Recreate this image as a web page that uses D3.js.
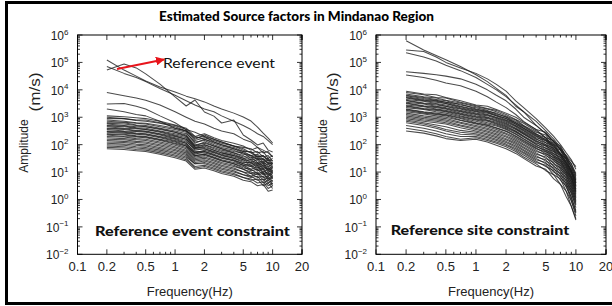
<!DOCTYPE html>
<html><head><meta charset="utf-8">
<script src="https://cdn.jsdelivr.net/npm/d3@7/dist/d3.min.js"></script>
<style>body{margin:0;background:#fff} svg{display:block}</style>
</head><body>
<svg id="chart" width="612" height="306"></svg>
<script>
// ---------------- DATA ----------------
const titleText = "Estimated Source factors in Mindanao Region";
const freqs = [0.2,0.3,0.4,0.5,0.7,1,1.3,1.6,2,2.5,3,4,5,6,7,8,9,10];
const xTickValues = [0.1,0.2,0.5,1,2,5,10,20];
const xTickLabels = ["0.1","0.2","0.5","1","2","5","10","20"];
const yTickExponents = [-2,-1,0,1,2,3,4,5,6];

// log10 amplitude read at each frequency of `freqs`
const eventUpper = [
 [5.09,4.72,4.5,4.32,4.1,3.92,3.77,3.67,3.56,3.41,3.3,3.15,3.01,2.86,2.64,2.42,2.24,2.06],
 [4.72,4.94,4.8,4.58,4.21,3.74,3.41,3.63,3.19,3.04,2.79,2.9,2.35,2.17,1.99,2.06,1.8,1.73],
 [4.85,4.6,4.45,4.3,4.05,3.8,3.6,3.45,3.3,3.2,3.05,2.85,2.7,2.55,2.4,2.3,2.15,2.0],
 [3.9,3.78,3.7,3.62,3.45,3.2,3.0,2.85,2.75,2.6,2.5,2.4,2.2,2.1,1.9,1.8,1.7,1.55],
 [3.48,3.5,3.4,3.3,3.05,2.8,2.55,2.45,2.3,2.2,2.1,1.95,1.8,1.7,1.55,1.6,1.45,1.4],
 [3.3,3.2,3.1,3.05,2.85,2.6,2.5,2.3,2.2,2.1,2.0,1.85,1.7,1.6,1.5,1.45,1.35,1.3]
];
const eventBundle = [
 [3.05,3.02,2.98,2.95,2.85,2.72,2.6,2.3,2.4,2.25,2.15,2.05,1.95,1.8,1.9,1.7,1.75,1.55],
 [3.0,2.95,2.9,2.9,2.8,2.7,2.55,2.2,2.35,2.2,2.1,1.95,1.9,1.85,1.7,1.75,1.5,1.6],
 [2.95,2.95,2.88,2.85,2.78,2.65,2.5,2.15,2.25,2.15,2.05,1.95,1.85,1.7,1.75,1.55,1.6,1.4],
 [2.9,2.85,2.8,2.78,2.7,2.6,2.5,2.25,2.3,2.1,2.0,1.9,1.75,1.75,1.55,1.6,1.4,1.5],
 [2.85,2.82,2.78,2.75,2.65,2.55,2.45,2.05,2.2,2.05,1.95,1.85,1.75,1.6,1.65,1.45,1.5,1.3],
 [2.8,2.8,2.72,2.7,2.6,2.5,2.4,2.1,2.15,2.0,1.9,1.8,1.65,1.6,1.45,1.5,1.3,1.35],
 [2.78,2.75,2.7,2.65,2.58,2.45,2.35,1.95,2.1,1.95,1.85,1.75,1.7,1.5,1.6,1.35,1.45,1.2],
 [2.75,2.7,2.65,2.65,2.55,2.45,2.32,2.0,2.05,1.95,1.85,1.7,1.55,1.55,1.35,1.4,1.2,1.3],
 [2.7,2.68,2.62,2.6,2.5,2.4,2.3,1.9,2.0,1.9,1.8,1.7,1.6,1.45,1.5,1.3,1.35,1.15],
 [2.68,2.65,2.6,2.55,2.48,2.35,2.25,1.95,2.0,1.85,1.75,1.65,1.5,1.45,1.3,1.35,1.1,1.2],
 [2.65,2.6,2.58,2.55,2.45,2.32,2.2,1.85,1.95,1.8,1.7,1.6,1.5,1.35,1.45,1.2,1.3,1.05],
 [2.6,2.58,2.52,2.5,2.4,2.3,2.2,1.9,1.9,1.8,1.7,1.6,1.45,1.4,1.25,1.3,1.05,1.15],
 [2.58,2.55,2.5,2.48,2.38,2.25,2.15,1.8,1.85,1.75,1.65,1.55,1.45,1.3,1.35,1.15,1.2,1.0],
 [2.55,2.5,2.48,2.45,2.35,2.22,2.1,1.85,1.85,1.72,1.62,1.5,1.35,1.35,1.15,1.25,1.0,1.05],
 [2.5,2.48,2.42,2.4,2.3,2.2,2.05,1.7,1.8,1.7,1.6,1.5,1.4,1.25,1.3,1.1,1.15,0.95],
 [2.48,2.45,2.4,2.38,2.28,2.15,2.05,1.75,1.75,1.65,1.55,1.45,1.3,1.25,1.1,1.15,0.9,1.0],
 [2.45,2.42,2.38,2.35,2.25,2.12,2.0,1.65,1.75,1.62,1.52,1.42,1.3,1.2,1.25,1.0,1.1,0.85],
 [2.4,2.38,2.32,2.3,2.2,2.1,1.95,1.7,1.7,1.6,1.5,1.4,1.25,1.2,1.05,1.1,0.85,0.95],
 [2.38,2.35,2.3,2.28,2.18,2.05,1.95,1.6,1.65,1.55,1.45,1.35,1.25,1.1,1.2,0.95,1.0,0.8],
 [2.35,2.3,2.28,2.25,2.15,2.02,1.9,1.6,1.65,1.52,1.42,1.3,1.15,1.1,0.95,1.0,0.75,0.85],
 [2.3,2.28,2.22,2.2,2.1,1.98,1.85,1.55,1.6,1.5,1.4,1.3,1.2,1.05,1.1,0.9,0.95,0.75],
 [2.25,2.22,2.18,2.15,2.05,1.92,1.8,1.5,1.55,1.45,1.35,1.25,1.1,1.0,0.9,0.95,0.7,0.8],
 [2.2,2.18,2.12,2.1,2.0,1.88,1.75,1.45,1.5,1.4,1.3,1.2,1.1,0.95,1.0,0.8,0.85,0.65],
 [2.15,2.12,2.08,2.05,1.95,1.82,1.7,1.4,1.45,1.35,1.25,1.15,1.0,0.95,0.8,0.85,0.6,0.7],
 [2.1,2.08,2.02,2.0,1.9,1.78,1.65,1.35,1.4,1.3,1.2,1.1,1.0,0.85,0.95,0.7,0.8,0.55],
 [2.05,2.02,1.98,1.95,1.85,1.72,1.6,1.3,1.35,1.25,1.15,1.05,0.9,0.85,0.7,0.75,0.5,0.6],
 [2.0,1.98,1.92,1.9,1.8,1.68,1.55,1.3,1.3,1.2,1.1,1.0,0.9,0.8,0.85,0.6,0.7,0.5],
 [1.95,1.92,1.88,1.85,1.75,1.62,1.5,1.2,1.25,1.15,1.05,0.95,0.8,0.75,0.6,0.65,0.4,0.5],
 [1.9,1.88,1.82,1.8,1.7,1.58,1.45,1.15,1.2,1.1,1.0,0.9,0.8,0.7,0.75,0.5,0.6,0.4],
 [1.85,1.82,1.78,1.75,1.65,1.52,1.4,1.1,1.15,1.05,0.95,0.85,0.7,0.65,0.5,0.55,0.3,0.35]
];
const siteUpper = [
 [5.79,5.45,5.25,5.1,4.85,4.55,4.3,4.05,3.8,3.4,3.2,2.7,2.4,2.1,1.85,1.6,1.4,1.2],
 [5.45,5.4,5.2,5.0,4.8,4.6,4.4,4.2,3.95,3.6,3.35,2.95,2.6,2.3,2.0,1.7,1.45,1.1],
 [5.35,5.2,5.05,4.9,4.7,4.45,4.2,4.0,3.75,3.45,3.2,2.85,2.5,2.2,1.9,1.55,1.3,0.95],
 [4.66,4.6,4.55,4.5,4.4,4.2,4.0,3.8,3.6,3.3,3.0,2.7,2.4,2.1,1.8,1.5,1.2,0.9],
 [4.54,4.45,4.35,4.25,4.15,3.95,3.75,3.55,3.35,3.1,2.85,2.55,2.25,1.95,1.65,1.35,1.05,0.7]
];
const siteBundle = [
 [3.95,3.85,3.82,3.72,3.6,3.45,3.4,3.28,3.15,3.0,2.82,2.55,2.45,2.1,1.95,1.55,1.3,0.85],
 [3.9,3.82,3.72,3.7,3.55,3.42,3.32,3.25,3.1,2.92,2.78,2.5,2.25,2.15,1.8,1.6,1.15,0.8],
 [3.85,3.75,3.7,3.62,3.52,3.38,3.3,3.2,3.05,2.9,2.7,2.45,2.35,2.0,1.85,1.45,1.2,0.75],
 [3.8,3.72,3.65,3.6,3.45,3.35,3.25,3.12,3.02,2.85,2.68,2.4,2.17,2.05,1.67,1.5,1.05,0.7],
 [3.78,3.68,3.62,3.55,3.48,3.3,3.22,3.15,3.0,2.8,2.65,2.38,2.25,1.9,1.8,1.35,1.1,0.65],
 [3.75,3.65,3.6,3.55,3.4,3.28,3.2,3.08,2.95,2.8,2.6,2.35,2.13,2.0,1.65,1.47,1.0,0.6],
 [3.72,3.62,3.58,3.5,3.38,3.25,3.18,3.05,2.95,2.75,2.6,2.32,2.2,1.85,1.7,1.3,1.05,0.6],
 [3.7,3.6,3.55,3.5,3.35,3.22,3.15,3.05,2.9,2.75,2.55,2.3,2.07,1.95,1.6,1.4,0.95,0.55],
 [3.65,3.58,3.5,3.45,3.32,3.2,3.1,3.0,2.88,2.7,2.52,2.25,2.15,1.8,1.65,1.25,1.0,0.5],
 [3.62,3.52,3.48,3.4,3.3,3.15,3.08,2.98,2.85,2.68,2.5,2.22,2.0,1.87,1.53,1.33,0.85,0.5],
 [3.6,3.5,3.45,3.4,3.25,3.12,3.05,2.95,2.82,2.65,2.45,2.2,2.07,1.75,1.6,1.2,0.95,0.45],
 [3.55,3.48,3.4,3.35,3.22,3.1,3.0,2.92,2.78,2.6,2.42,2.15,1.95,1.8,1.45,1.25,0.8,0.4],
 [3.52,3.42,3.38,3.32,3.2,3.05,2.98,2.88,2.75,2.58,2.4,2.12,2.0,1.67,1.53,1.13,0.85,0.38],
 [3.5,3.4,3.35,3.3,3.15,3.02,2.95,2.85,2.72,2.55,2.38,2.1,1.87,1.75,1.4,1.2,0.75,0.35],
 [3.45,3.38,3.3,3.25,3.12,3.0,2.9,2.82,2.68,2.5,2.32,2.05,1.95,1.6,1.45,1.05,0.8,0.3],
 [3.42,3.32,3.28,3.22,3.1,2.95,2.88,2.78,2.65,2.48,2.3,2.02,1.8,1.67,1.33,1.13,0.67,0.28],
 [3.4,3.3,3.25,3.2,3.05,2.92,2.85,2.75,2.62,2.45,2.28,2.0,1.87,1.55,1.4,1.0,0.75,0.25],
 [3.35,3.28,3.2,3.15,3.02,2.9,2.8,2.72,2.58,2.4,2.22,1.95,1.75,1.6,1.25,1.05,0.6,0.2],
 [3.3,3.2,3.15,3.1,2.98,2.85,2.75,2.68,2.55,2.38,2.2,1.92,1.8,1.47,1.33,0.93,0.65,0.15],
 [3.28,3.18,3.12,3.08,2.95,2.8,2.72,2.62,2.5,2.32,2.15,1.88,1.67,1.53,1.17,0.97,0.5,0.1],
 [3.25,3.15,3.1,3.05,2.9,2.78,2.7,2.6,2.48,2.3,2.12,1.85,1.73,1.4,1.25,0.85,0.55,0.05],
 [3.2,3.12,3.05,3.0,2.88,2.75,2.65,2.55,2.42,2.25,2.08,1.8,1.6,1.45,1.1,0.9,0.4,0.0],
 [3.15,3.05,3.0,2.95,2.82,2.7,2.6,2.5,2.38,2.2,2.02,1.75,1.65,1.3,1.15,0.75,0.45,-0.05],
 [3.1,3.0,2.95,2.9,2.78,2.65,2.55,2.45,2.32,2.15,1.98,1.7,1.5,1.35,1.0,0.8,0.3,-0.1],
 [3.05,2.95,2.9,2.85,2.72,2.6,2.5,2.4,2.28,2.1,1.92,1.65,1.55,1.2,1.05,0.65,0.35,-0.15],
 [3.0,2.9,2.85,2.8,2.68,2.55,2.45,2.35,2.22,2.05,1.88,1.6,1.4,1.25,0.9,0.7,0.2,-0.2],
 [2.95,2.85,2.8,2.75,2.62,2.5,2.4,2.3,2.18,2.0,1.82,1.55,1.45,1.1,0.95,0.55,0.25,-0.3],
 [2.9,2.8,2.72,2.65,2.52,2.45,2.35,2.25,2.12,1.95,1.78,1.5,1.3,1.15,0.8,0.6,0.05,-0.4],
 [2.85,2.75,2.65,2.55,2.45,2.4,2.3,2.2,2.08,1.9,1.72,1.45,1.35,1.0,0.85,0.45,0.1,-0.45],
 [2.8,2.7,2.6,2.5,2.38,2.35,2.25,2.15,2.02,1.85,1.68,1.4,1.2,1.05,0.7,0.5,-0.05,-0.5],
 [2.7,2.6,2.5,2.4,2.3,2.3,2.2,2.1,1.98,1.8,1.62,1.35,1.25,0.9,0.75,0.3,-0.05,-0.6],
 [2.6,2.5,2.4,2.3,2.2,2.25,2.15,2.05,1.92,1.75,1.55,1.3,1.05,0.9,0.55,0.3,-0.25,-0.7],
 [2.5,2.42,2.32,2.22,2.15,2.2,2.1,1.98,1.85,1.68,1.5,1.22,1.1,0.75,0.55,0.1,-0.25,-0.75]
];

// ---------------- DRAW ----------------
const svg = d3.select("#chart");
const calFont = "Lato, 'Open Sans', sans-serif";
const axFont = "'Liberation Sans', Arial, sans-serif";

// outer frame
svg.append("rect").attr("x",6.5).attr("y",2.5).attr("width",720).attr("height",301)
  .attr("fill","none").attr("stroke","#000").attr("stroke-width",3);

// title
svg.append("text").attr("x",296.5).attr("y",21).attr("text-anchor","middle")
  .attr("font-family",calFont).attr("font-weight","900").attr("font-size",14)
  .attr("textLength",275).attr("lengthAdjust","spacingAndGlyphs").text(titleText);

const yTop = 35, yBot = 254.3;
const panels = [
  {x0:77.5, x1:302, curves: eventUpper.concat(eventBundle), label:"Reference event constraint", lx:95, lw:195, ly:236},
  {x0:376, x1:606, curves: siteUpper.concat(siteBundle), label:"Reference site constraint", lx:390.7, lw:178.6, ly:235}
];

panels.forEach((p, pi) => {
  const x = d3.scaleLog().domain([0.1,20]).range([p.x0,p.x1]);
  const y = d3.scaleLog().domain([1e-2,1e6]).range([yBot,yTop]);
  const g = svg.append("g");

  // curves
  const line = d3.line().x(d=>x(d[0])).y(d=>y(d[1]));
  g.append("g").selectAll("path").data(p.curves).join("path")
    .attr("d", c => line(freqs.map((f,i)=>[f, Math.pow(10,c[i])])))
    .attr("fill","none").attr("stroke","#1e1e1e").attr("stroke-width",1.05)
    .attr("stroke-opacity",0.8).attr("stroke-linejoin","round");

  // frame
  g.append("rect").attr("x",p.x0).attr("y",yTop).attr("width",p.x1-p.x0).attr("height",yBot-yTop)
    .attr("fill","none").attr("stroke","#000").attr("stroke-width",1);

  // x ticks (inside, bottom and top)
  const xt = [];
  [0.1,1,10].forEach(dec => { for (let k=1;k<=9;k++){ const v=k*dec; if (v<=20.0001) xt.push(v);} });
  xt.push(20);
  xt.forEach(v => {
    const major = xTickValues.some(t => Math.abs(t-v)/t < 1e-6);
    const len = major ? 5 : 2.5;
    const xx = x(v);
    g.append("line").attr("x1",xx).attr("x2",xx).attr("y1",yBot).attr("y2",yBot-len).attr("stroke","#000").attr("stroke-width",0.8);
    g.append("line").attr("x1",xx).attr("x2",xx).attr("y1",yTop).attr("y2",yTop+len).attr("stroke","#000").attr("stroke-width",0.8);
  });
  // y ticks (inside, left and right)
  yTickExponents.forEach(e => {
    for (let k=1;k<=9;k++){
      if (e===6 && k>1) break;
      const v = k*Math.pow(10,e);
      const yy = y(v);
      const len = k===1 ? 5 : 2.5;
      g.append("line").attr("x1",p.x0).attr("x2",p.x0+len).attr("y1",yy).attr("y2",yy).attr("stroke","#000").attr("stroke-width",0.8);
      g.append("line").attr("x1",p.x1).attr("x2",p.x1-len).attr("y1",yy).attr("y2",yy).attr("stroke","#000").attr("stroke-width",0.8);
    }
  });

  // x tick labels
  xTickValues.forEach((v,i) => {
    g.append("text").attr("x",x(v)).attr("y",271).attr("text-anchor","middle")
      .attr("font-family",axFont).attr("font-size",13).attr("fill","#222").text(xTickLabels[i]);
  });
  // y tick labels
  yTickExponents.forEach(e => {
    const t = g.append("text").attr("x",p.x0-9).attr("y",y(Math.pow(10,e))+5).attr("text-anchor","end")
      .attr("font-family",axFont).attr("font-size",12).attr("fill","#222");
    t.append("tspan").text("10");
    t.append("tspan").attr("font-size",8).attr("dy",-5.5).text(e<0 ? "\u2212"+Math.abs(e) : String(e));
  });

  // axis titles
  g.append("text").attr("x",(p.x0+p.x1)/2).attr("y",296).attr("text-anchor","middle")
    .attr("font-family",axFont).attr("font-size",13).attr("fill","#222").text("Frequency(Hz)");
  g.append("text").attr("transform",`translate(${p.x0-49.5},146) rotate(-90)`).attr("text-anchor","middle")
    .attr("font-family",axFont).attr("font-size",12).attr("fill","#222").text("Amplitude");
  g.append("text").attr("transform",`translate(${p.x0-38},92) rotate(-90)`).attr("text-anchor","middle")
    .attr("font-family",axFont).attr("font-size",14).attr("fill","#222")
    .attr("textLength",39).attr("lengthAdjust","spacingAndGlyphs").text("(m/s)");

  // constraint label
  g.append("text").attr("x",p.lx).attr("y",p.ly).attr("font-family",calFont).attr("font-weight","900")
    .attr("font-size",14).attr("fill","#111").attr("textLength",p.lw).attr("lengthAdjust","spacingAndGlyphs").text(p.label);

  if (pi===0) {
    // reference event annotation with red arrow
    const defs = svg.append("defs");
    defs.append("marker").attr("id","arrowhead").attr("viewBox","0 0 10 10").attr("refX",9).attr("refY",5)
      .attr("markerWidth",5).attr("markerHeight",5).attr("orient","auto")
      .append("path").attr("d","M0,0L10,5L0,10Z").attr("fill","#e8141b");
    g.append("line").attr("x1",117).attr("y1",69).attr("x2",164).attr("y2",59.5)
      .attr("stroke","#e8141b").attr("stroke-width",1.8).attr("marker-end","url(#arrowhead)");
    g.append("text").attr("x",163).attr("y",68).attr("font-family",calFont).attr("font-size",14)
      .attr("fill","#111").attr("textLength",112).attr("lengthAdjust","spacingAndGlyphs").text("Reference event");
  }
});
</script>
</body></html>
